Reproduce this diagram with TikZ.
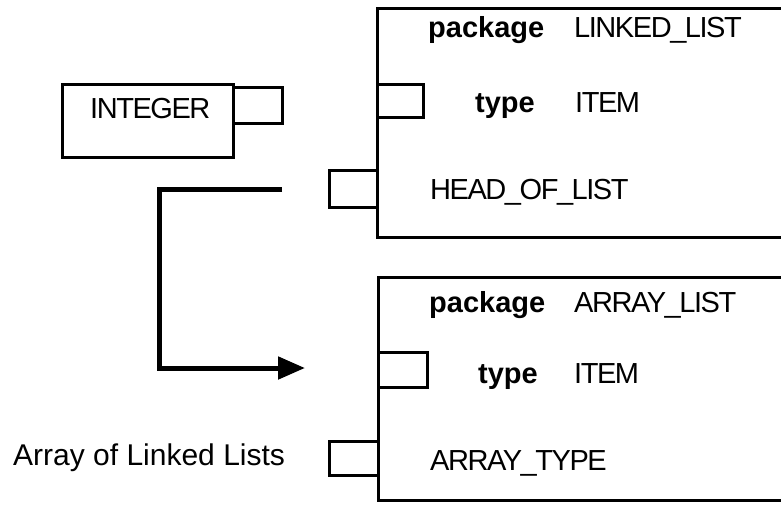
\documentclass[tikz,border=0pt]{standalone}
\usepackage{fontspec}
\setmainfont{Liberation Sans}
\newfontfamily\tightfont[LetterSpace=-5]{Liberation Sans}
\usetikzlibrary{arrows.meta}
\begin{document}
\begin{tikzpicture}[x=1pt,y=-1pt,
  box/.style={draw,line width=3pt,rectangle,inner sep=0pt,outer sep=0pt},
  port/.style={box},
  txt/.style={anchor=base west,inner sep=0pt,font=\tightfont\fontsize{29}{33}\selectfont},
  kw/.style={anchor=base west,inner sep=0pt,font=\fontsize{29}{33}\selectfont\bfseries},
  flow/.style={line width=5pt,-{Triangle[length=27pt,width=22pt]}}]
\useasboundingbox (0,0) rectangle (781,504);
\clip (0,0) rectangle (781,504);

% package LINKED_LIST
\node[box,minimum width=522.5pt,minimum height=229pt] (linked) at (638.75,122.5) {};
\node[port,minimum width=45.5pt,minimum height=33pt] (litem) at (400.25,100.5) {};
\node[port,minimum width=48.5pt,minimum height=37pt] (head) at (353.25,188.5) {};
\node[kw] (lpkg) at (428,37) {package};
\node[txt] (lname) at (574,37) {LINKED\_LIST};
\node[kw] (ltype) at (475,112.4) {type};
\node[txt] (ltname) at (575,112.4) {ITEM};
\node[txt] (lhead) at (430,199) {HEAD\_OF\_LIST};

% INTEGER
\node[box,minimum width=171pt,minimum height=73pt] (int) at (147.5,120.5) {};
\node[port,minimum width=49pt,minimum height=36pt] (intport) at (257.5,105) {};
\node[txt] (intname) at (90,118) {INTEGER};

% package ARRAY_LIST
\node[box,minimum width=522pt,minimum height=223pt] (arr) at (639,388.5) {};
\node[port,minimum width=49pt,minimum height=35pt] (aitem) at (402.5,369.5) {};
\node[port,minimum width=49pt,minimum height=34pt] (atype) at (353.5,458) {};
\node[kw] (apkg) at (429,312) {package};
\node[txt] (aname) at (574,312) {ARRAY\_LIST};
\node[kw] (atypekw) at (478,383.7) {type};
\node[txt] (atname) at (574,383.7) {ITEM};
\node[txt] (atypename) at (430,470.4) {ARRAY\_TYPE};

\node[anchor=base west,inner sep=0pt,font=\fontsize{30}{34}\selectfont] (lbl) at (13,465.7) {Array of Linked Lists};

% instantiation arrow
\coordinate (from) at (282,189.5);
\coordinate (to) at (305,368);
\draw[flow] (from) -- (159.5,189.5) |- (to);
\end{tikzpicture}
\end{document}
